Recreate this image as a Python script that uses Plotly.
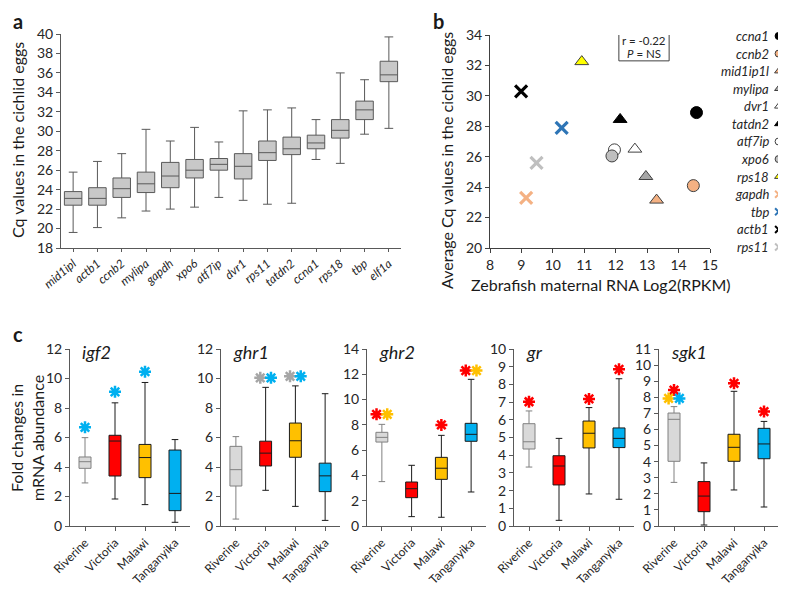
import plotly.graph_objects as go

# ---------------- DATA ----------------
# Panel a: Cq values of candidate reference genes (box stats)
genes_a = ["mid1ipl", "actb1", "ccnb2", "mylipa", "gapdh", "xpo6", "atf7ip",
           "dvr1", "rps11", "tatdn2", "ccna1", "rps18", "tbp", "elf1a"]
a_low = [19.6, 20.1, 21.1, 21.8, 22.0, 22.2, 23.2, 22.9, 22.5, 22.6, 27.1, 26.7, 29.7, 30.3]
a_q1 = [22.4, 22.4, 23.2, 23.7, 24.2, 25.2, 26.0, 25.1, 27.0, 27.6, 28.2, 29.3, 31.2, 35.1]
a_med = [23.1, 23.1, 24.1, 24.6, 25.4, 26.0, 26.6, 26.4, 27.8, 28.2, 28.8, 30.1, 32.2, 35.8]
a_q3 = [23.8, 24.2, 25.2, 25.8, 26.8, 27.1, 27.2, 27.7, 29.0, 29.4, 29.6, 31.2, 33.1, 37.2]
a_high = [25.8, 26.9, 27.7, 30.2, 29.0, 30.4, 28.9, 32.1, 32.2, 32.4, 31.2, 36.0, 35.3, 39.7]

# Panel b: zebrafish maternal RNA vs average Cq
genes_b = ["ccna1", "ccnb2", "mid1ip1l", "mylipa", "dvr1", "tatdn2", "atf7ip",
           "xpo6", "rps18", "gapdh", "tbp", "actb1", "rps11"]
b_rpkm = [14.57, 14.47, 13.30, 12.96, 12.61, 12.14, 11.96, 11.88, 10.92, 9.15, 10.28, 8.99, 9.48]
b_cq = [28.9, 24.1, 23.15, 24.7, 26.5, 28.45, 26.45, 26.05, 32.25, 23.3, 27.9, 30.3, 25.6]
b_stats = ["r = -0.22", "<i>P</i> = NS"]

# Panel c: fold changes in mRNA abundance
groups = ["Riverine", "Victoria", "Malawi", "Tanganyika"]
genes_c = ["igf2", "ghr1", "ghr2", "gr", "sgk1"]
c_low = {"igf2": [2.92, 1.83, 1.45, 0.25], "ghr1": [0.47, 2.42, 1.33, 0.38],
         "ghr2": [3.51, 0.74, 0.69, 2.69], "gr": [3.33, 0.32, 1.81, 1.51],
         "sgk1": [2.71, 0.06, 2.24, 1.18]}
c_q1 = {"igf2": [3.91, 3.39, 3.28, 1.04], "ghr1": [2.71, 4.07, 4.66, 2.33],
        "ghr2": [6.64, 2.24, 3.69, 6.70], "gr": [4.35, 2.32, 4.41, 4.43],
        "sgk1": [4.02, 0.89, 4.02, 4.18]}
c_med = {"igf2": [4.36, 5.76, 4.64, 2.21], "ghr1": [3.82, 4.94, 5.78, 3.40],
         "ghr2": [7.01, 2.95, 4.57, 7.25], "gr": [4.76, 3.39, 5.24, 4.95],
         "sgk1": [6.63, 1.86, 4.89, 5.10]}
c_q3 = {"igf2": [4.68, 6.15, 5.53, 5.15], "ghr1": [5.40, 5.75, 6.98, 4.26],
        "ghr2": [7.41, 3.48, 5.43, 8.12], "gr": [5.78, 3.97, 5.93, 5.54],
        "sgk1": [7.02, 2.76, 5.70, 6.07]}
c_high = {"igf2": [5.99, 8.35, 9.73, 5.86], "ghr1": [6.06, 9.40, 9.50, 8.97],
          "ghr2": [8.04, 4.80, 7.17, 11.60], "gr": [6.50, 4.95, 6.69, 8.32],
          "sgk1": [7.42, 3.92, 8.37, 6.50]}
c_ymax = {"igf2": 12, "ghr1": 12, "ghr2": 14, "gr": 10, "sgk1": 11}
c_dtick = {"igf2": 2, "ghr1": 2, "ghr2": 2, "gr": 1, "sgk1": 1}
# significance stars: (group, height, group compared with)
c_stars = {
    "igf2": [("Riverine", 6.69, "Tanganyika"), ("Victoria", 9.1, "Tanganyika"),
             ("Malawi", 10.46, "Tanganyika")],
    "ghr1": [("Victoria", 10.05, "Riverine"), ("Victoria", 10.05, "Tanganyika"),
             ("Malawi", 10.15, "Riverine"), ("Malawi", 10.15, "Tanganyika")],
    "ghr2": [("Riverine", 8.83, "Victoria"), ("Riverine", 8.83, "Malawi"),
             ("Malawi", 7.99, "Victoria"),
             ("Tanganyika", 12.29, "Victoria"), ("Tanganyika", 12.29, "Malawi")],
    "gr": [("Riverine", 7.02, "Victoria"), ("Malawi", 7.18, "Victoria"),
           ("Tanganyika", 8.85, "Victoria")],
    "sgk1": [("Riverine", 8.45, "Victoria"), ("Riverine", 7.93, "Malawi"),
             ("Riverine", 7.93, "Tanganyika"), ("Malawi", 8.87, "Victoria"),
             ("Tanganyika", 7.11, "Victoria")],
}

# ---------------- STYLE ----------------
# the page body adds an 8 px offset, so the figure is drawn 8 px smaller
OFF = 8
W, H = 786 - OFF, 591 - OFF
FONT = "Lato, 'Open Sans', sans-serif"
AX = "#595959"
group_fill = {"Riverine": "#d9d9d9", "Victoria": "#ff0000", "Malawi": "#ffc000", "Tanganyika": "#00b0f0"}
group_line = {"Riverine": "#808080", "Victoria": "#1a1a1a", "Malawi": "#1a1a1a", "Tanganyika": "#1a1a1a"}
star_color = {"Riverine": "#a6a6a6", "Victoria": "#ff0000", "Malawi": "#ffc000", "Tanganyika": "#00b0f0"}
b_style = {
    "ccna1": ("circle", "#000000", "#000000"),
    "ccnb2": ("circle", "#f4b183", "#404040"),
    "mid1ip1l": ("triangle-up", "#f4b183", "#404040"),
    "mylipa": ("triangle-up", "#a6a6a6", "#404040"),
    "dvr1": ("triangle-up", "#ffffff", "#404040"),
    "tatdn2": ("triangle-up", "#000000", "#000000"),
    "atf7ip": ("circle", "#ffffff", "#404040"),
    "xpo6": ("circle", "#bfbfbf", "#404040"),
    "rps18": ("triangle-up", "#ffff00", "#404040"),
    "gapdh": ("x-thin", None, "#f4b183"),
    "tbp": ("x-thin", None, "#2e75b6"),
    "actb1": ("x-thin", None, "#000000"),
    "rps11": ("x-thin", None, "#bfbfbf"),
}


def px(x):
    return max(0.0, (x - OFF) / W)


def py(y):
    return min(1.0, 1 - (y - OFF) / H)


fig = go.Figure()
layout = dict(width=W, height=H, margin=dict(l=0, r=0, t=0, b=0, autoexpand=False), autosize=False,
              paper_bgcolor="white", plot_bgcolor="white", showlegend=False,
              font=dict(family=FONT, size=14, color="#262626"), boxmode="overlay")
annotations = []
shapes = []


def axstyle(**kw):
    d = dict(showline=True, linecolor=AX, linewidth=1, ticks="outside", ticklen=4,
             tickcolor=AX, showgrid=False, zeroline=False, mirror=False, automargin=False,
             tickfont=dict(family=FONT, size=14, color="#262626"))
    d.update(kw)
    return d


# ---------------- PANEL a ----------------
fig.add_trace(go.Box(x=genes_a, q1=a_q1, median=a_med, q3=a_q3, lowerfence=a_low,
                     upperfence=a_high, fillcolor="#c8c8c8",
                     line=dict(color="#595959", width=1), width=0.72, whiskerwidth=0.5,
                     boxpoints=False, xaxis="x", yaxis="y"))
layout["xaxis"] = axstyle(domain=[px(61), px(401)], type="category", range=[-0.5, 13.5],
                          tickangle=-40, ticklen=3, anchor="y",
                          tickfont=dict(family=FONT, size=12, style="italic", color="#262626"))
layout["yaxis"] = axstyle(domain=[py(248), py(34)], range=[18, 40], dtick=2, anchor="x")

# ---------------- PANEL b ----------------
for g, xv, yv in zip(genes_b, b_rpkm, b_cq):
    sym, fill, lc = b_style[g]
    if sym == "x-thin":
        mk = dict(symbol=sym, size=12, line=dict(color=lc, width=3.2), color=lc)
    else:
        mk = dict(symbol=sym, size=12, color=fill, line=dict(color=lc, width=1))
    fig.add_trace(go.Scatter(x=[xv], y=[yv], mode="markers", marker=mk, name=g,
                             xaxis="x2", yaxis="y2", cliponaxis=False))
layout["xaxis2"] = axstyle(domain=[px(490), px(710)], range=[8, 15], dtick=1, anchor="y2",
                           linecolor="#404040", tickcolor="#404040")
layout["yaxis2"] = axstyle(domain=[py(248), py(35)], range=[20, 34], dtick=2, anchor="x2",
                           linecolor="#404040", tickcolor="#404040")
shapes.append(dict(type="rect", xref="x2", yref="y2", x0=12.1, x1=13.7, y0=32.3, y1=34.1,
                   line=dict(color="#404040", width=1), fillcolor="white", layer="above"))
annotations.append(dict(x=12.9, y=33.62, xref="x2", yref="y2", text=b_stats[0],
                        showarrow=False, xanchor="center", yanchor="middle",
                        font=dict(family=FONT, size=11.5, color="#262626")))
annotations.append(dict(x=12.9, y=32.78, xref="x2", yref="y2", text=b_stats[1],
                        showarrow=False, xanchor="center", yanchor="middle",
                        font=dict(family=FONT, size=11.5, color="#262626")))

# legend for panel b (drawn on a hidden axis)
for i, g in enumerate(genes_b):
    sym, fill, lc = b_style[g]
    if sym == "x-thin":
        mk = dict(symbol=sym, size=7, line=dict(color=lc, width=2), color=lc)
    else:
        mk = dict(symbol=sym, size=7, color=fill, line=dict(color=lc, width=1))
    fig.add_trace(go.Scatter(x=[0.9], y=[i], mode="markers", marker=mk,
                             xaxis="x3", yaxis="y3", cliponaxis=False, hoverinfo="skip"))
    annotations.append(dict(x=0.8, y=i, xref="x3", yref="y3", text=g, showarrow=False,
                            xanchor="right", yanchor="middle",
                            font=dict(family=FONT, size=13, style="italic", color="#262626")))
layout["xaxis3"] = dict(domain=[px(712), 1.0], range=[0, 1], visible=False, anchor="y3",
                        automargin=False)
layout["yaxis3"] = dict(domain=[py(247), py(36)], range=[12, 0], visible=False, anchor="x3",
                        automargin=False)

# ---------------- PANEL c ----------------
c_domains = {"igf2": (70, 190), "ghr1": (221, 340), "ghr2": (367, 486),
             "gr": (514, 634), "sgk1": (659, 779)}
for k, gene in enumerate(genes_c):
    n = k + 4
    xa, ya = f"x{n}", f"y{n}"
    for gi, grp in enumerate(groups):
        fig.add_trace(go.Box(x=[gi], q1=[c_q1[gene][gi]], median=[c_med[gene][gi]],
                             q3=[c_q3[gene][gi]], lowerfence=[c_low[gene][gi]],
                             upperfence=[c_high[gene][gi]], fillcolor=group_fill[grp],
                             line=dict(color=group_line[grp], width=1), width=0.4,
                             whiskerwidth=0.55, boxpoints=False, xaxis=xa, yaxis=ya))
    # stars, spread horizontally when several share one height
    buckets = {}
    for grp, hv, vs in c_stars[gene]:
        buckets.setdefault((grp, hv), []).append(vs)
    for (grp, hv), vss in buckets.items():
        m = len(vss)
        for j, vs in enumerate(vss):
            off = (j - (m - 1) / 2) * 0.36
            fig.add_trace(go.Scatter(x=[groups.index(grp) + off], y=[hv], mode="markers",
                                     marker=dict(symbol="asterisk-open", size=10,
                                                 color=star_color[vs],
                                                 line=dict(color=star_color[vs], width=2.5)),
                                     xaxis=xa, yaxis=ya, cliponaxis=False, hoverinfo="skip"))
    x0, x1 = c_domains[gene]
    layout[f"xaxis{n}"] = axstyle(domain=[px(x0), px(x1)], range=[-0.5, 3.5],
                                  tickvals=list(range(4)), ticktext=groups, tickangle=-45,
                                  anchor=ya, tickfont=dict(family=FONT, size=12, color="#262626"))
    layout[f"yaxis{n}"] = axstyle(domain=[py(526), py(349)], range=[0, c_ymax[gene]],
                                  dtick=c_dtick[gene], anchor=xa)
    annotations.append(dict(x=px(x0 + 10), y=py(339), xref="paper", yref="paper", text=gene,
                            showarrow=False, xanchor="left", yanchor="top",
                            font=dict(family=FONT, size=18, style="italic", color="#1a1a1a")))

# ---------------- TEXT ----------------
def ptext(x, y, t, size, angle=0, bold=False):
    annotations.append(dict(x=px(x), y=py(y), xref="paper", yref="paper", text=t,
                            showarrow=False, textangle=angle, xanchor="center", yanchor="middle",
                            font=dict(family=FONT, size=size, color="#1a1a1a",
                                      weight="bold" if bold else "normal")))


ptext(18, 21, "a", 20, bold=True)
ptext(438, 21, "b", 20, bold=True)
ptext(18, 334, "c", 20, bold=True)
ptext(18, 140, "Cq values in the cichlid eggs", 16, angle=-90)
ptext(446, 161, "Average Cq values in the cichlid eggs", 16, angle=-90)
ptext(601, 284, "Zebrafish maternal RNA Log2(RPKM)", 16)
ptext(27, 438, "Fold changes in<br>mRNA abundance", 16, angle=-90)

layout["annotations"] = annotations
layout["shapes"] = shapes
fig.update_layout(**layout)
fig.write_html("out.html")
